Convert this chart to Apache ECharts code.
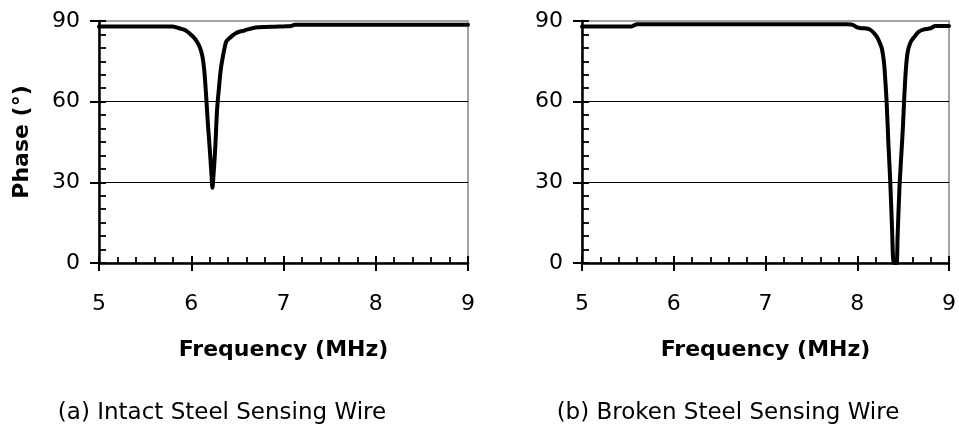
<!DOCTYPE html>
<html>
<head>
<meta charset="utf-8">
<title>Phase vs Frequency</title>
<script src="https://cdn.jsdelivr.net/npm/echarts@6/dist/echarts.min.js"></script>
<style>
  html, body { margin: 0; padding: 0; background: #fff; }
  #chart { width: 959px; height: 425px; }
</style>
</head>
<body>
<div id="chart"></div>
<script>
// Frequency sweep of the intact sensing wire (MHz) and its phase (degrees)
const freqIntact = [5.0, 5.2, 5.4, 5.6, 5.8, 5.84, 5.88, 5.92, 5.96, 6.0, 6.04, 6.08, 6.1, 6.12,
  6.14, 6.16, 6.18, 6.2, 6.22, 6.23, 6.24, 6.26, 6.28, 6.3, 6.32, 6.34, 6.36, 6.38, 6.41, 6.44,
  6.48, 6.52, 6.56, 6.6, 6.65, 6.7, 6.8, 6.9, 7.0, 7.08, 7.12, 7.3, 7.6, 8.0, 8.4, 8.8, 9.0];
const phaseIntact = [88, 88, 88, 88, 88, 87.6, 87.2, 86.8, 86.0, 84.8, 83.4, 81.2, 79.5, 77,
  72, 63, 52, 42.7, 32.5, 28, 32, 42.7, 57, 65, 72, 76.2, 79.8, 82.4, 83.5, 84.4,
  85.4, 86, 86.3, 86.8, 87.2, 87.6, 87.8, 87.9, 88, 88.1, 88.6, 88.6, 88.6, 88.6, 88.6, 88.6, 88.6];

// Frequency sweep of the broken sensing wire (MHz) and its phase (degrees)
const freqBroken = [5.0, 5.2, 5.4, 5.54, 5.6, 6.0, 6.5, 7.0, 7.5, 7.9, 7.95, 8.0, 8.05, 8.1,
  8.14, 8.18, 8.22, 8.25, 8.27, 8.29, 8.3, 8.32, 8.34, 8.36, 8.38, 8.39, 8.4, 8.42, 8.43,
  8.44, 8.46, 8.48, 8.5, 8.51, 8.53, 8.55, 8.58, 8.62, 8.67, 8.72, 8.8, 8.85, 9.0];
const phaseBroken = [88, 88, 88, 88, 88.8, 88.8, 88.8, 88.8, 88.8, 88.8, 88.6, 87.6, 87.3, 87.2,
  86.8, 85.6, 83.8, 81.5, 79.5, 75, 71, 60, 44, 30, 12, 2, 0, 0, 0,
  10, 28, 40, 52, 60, 72, 78.5, 82, 84, 86, 86.8, 87.3, 88.1, 88.1];

// Axis tick labels
const freqTicks = [5, 6, 7, 8, 9];
const phaseTicks = [0, 30, 60, 90];

const captions = ['(a) Intact Steel Sensing Wire', '(b) Broken Steel Sensing Wire'];
const xAxisTitle = 'Frequency (MHz)';
const yAxisTitle = 'Phase (°)';

const FONT = 'DejaVu Sans';
const INK = '#000';
const FRAME = '#a3a3a3';

const panels = [
  { freq: freqIntact, phase: phaseIntact, left: 99, width: 369, captionX: 222, yTitle: true },
  { freq: freqBroken, phase: phaseBroken, left: 582, width: 368, captionX: 728, yTitle: false }
];

const xMin = freqTicks[0], xMax = freqTicks[freqTicks.length - 1];
const xStep = freqTicks[1] - freqTicks[0];
const yMin = phaseTicks[0], yMax = phaseTicks[phaseTicks.length - 1];
const yStep = phaseTicks[1] - phaseTicks[0];

const grid = [], xAxis = [], yAxis = [], series = [], graphic = [];

panels.forEach((p, i) => {
  grid.push({
    left: p.left, width: p.width, top: 21, height: 242,
    show: true, borderColor: FRAME, borderWidth: 2, backgroundColor: '#fff'
  });

  // Main frequency axis: outside major ticks and labels
  xAxis.push({
    type: 'value', gridIndex: i, position: 'bottom', min: xMin, max: xMax, interval: xStep,
    axisLine: { show: true, onZero: false, lineStyle: { color: INK, width: 2.5 } },
    axisTick: { show: true, inside: false, length: 8, lineStyle: { color: INK, width: 2 } },
    axisLabel: { show: true, margin: 30, color: INK, fontFamily: FONT, fontSize: 22 },
    splitLine: { show: false },
    name: xAxisTitle, nameLocation: 'middle', nameGap: 76,
    nameTextStyle: { fontFamily: FONT, fontSize: 22, fontWeight: 'bold', color: INK }
  });
  // Companion axis on the same edge: inside major and minor ticks
  xAxis.push({
    type: 'value', gridIndex: i, position: 'bottom', min: xMin, max: xMax, interval: xStep,
    axisLine: { show: false, onZero: false },
    axisTick: { show: true, inside: true, length: 7, lineStyle: { color: INK, width: 2 } },
    minorTick: { show: true, splitNumber: 5, length: 6, lineStyle: { color: INK, width: 1.8 } },
    axisLabel: { show: false },
    splitLine: { show: false }
  });

  // Main phase axis: gridlines, outside major ticks, labels
  yAxis.push({
    type: 'value', gridIndex: i, position: 'left', min: yMin, max: yMax, interval: yStep,
    axisLine: { show: true, onZero: false, lineStyle: { color: INK, width: 2.5 } },
    axisTick: { show: true, inside: false, length: 9, lineStyle: { color: INK, width: 2 } },
    axisLabel: { show: true, margin: 19, color: INK, fontFamily: FONT, fontSize: 22 },
    splitLine: { show: true, showMaxLine: false, showMinLine: false, lineStyle: { color: INK, width: 1 } },
    name: p.yTitle ? yAxisTitle : '', nameLocation: 'middle', nameGap: 66, nameRotate: 90,
    nameTextStyle: { fontFamily: FONT, fontSize: 22, fontWeight: 'bold', color: INK }
  });
  // Companion axis on the same edge: inside minor ticks
  yAxis.push({
    type: 'value', gridIndex: i, position: 'left', min: yMin, max: yMax, interval: yStep,
    axisLine: { show: false, onZero: false },
    axisTick: { show: true, inside: true, length: 7, lineStyle: { color: INK, width: 2 } },
    minorTick: { show: true, splitNumber: 6, length: 7, lineStyle: { color: INK, width: 1.8 } },
    axisLabel: { show: false },
    splitLine: { show: false }
  });

  series.push({
    type: 'line', xAxisIndex: i * 2, yAxisIndex: i * 2,
    data: p.freq.map((f, k) => [f, p.phase[k]]),
    showSymbol: false, symbol: 'none', smooth: 0.3,
    lineStyle: { color: INK, width: 4, cap: 'round', join: 'round' },
    z: 5, animation: false
  });

  graphic.push({
    type: 'text', x: p.captionX, y: 413,
    style: {
      text: captions[i], fill: INK, font: '23px "' + FONT + '"',
      textAlign: 'center', textVerticalAlign: 'middle', verticalAlign: 'middle'
    }
  });
});

const chart = echarts.init(document.getElementById('chart'), null, { renderer: 'canvas' });
chart.setOption({
  animation: false,
  backgroundColor: '#fff',
  grid, xAxis, yAxis, series, graphic
});
</script>
</body>
</html>
